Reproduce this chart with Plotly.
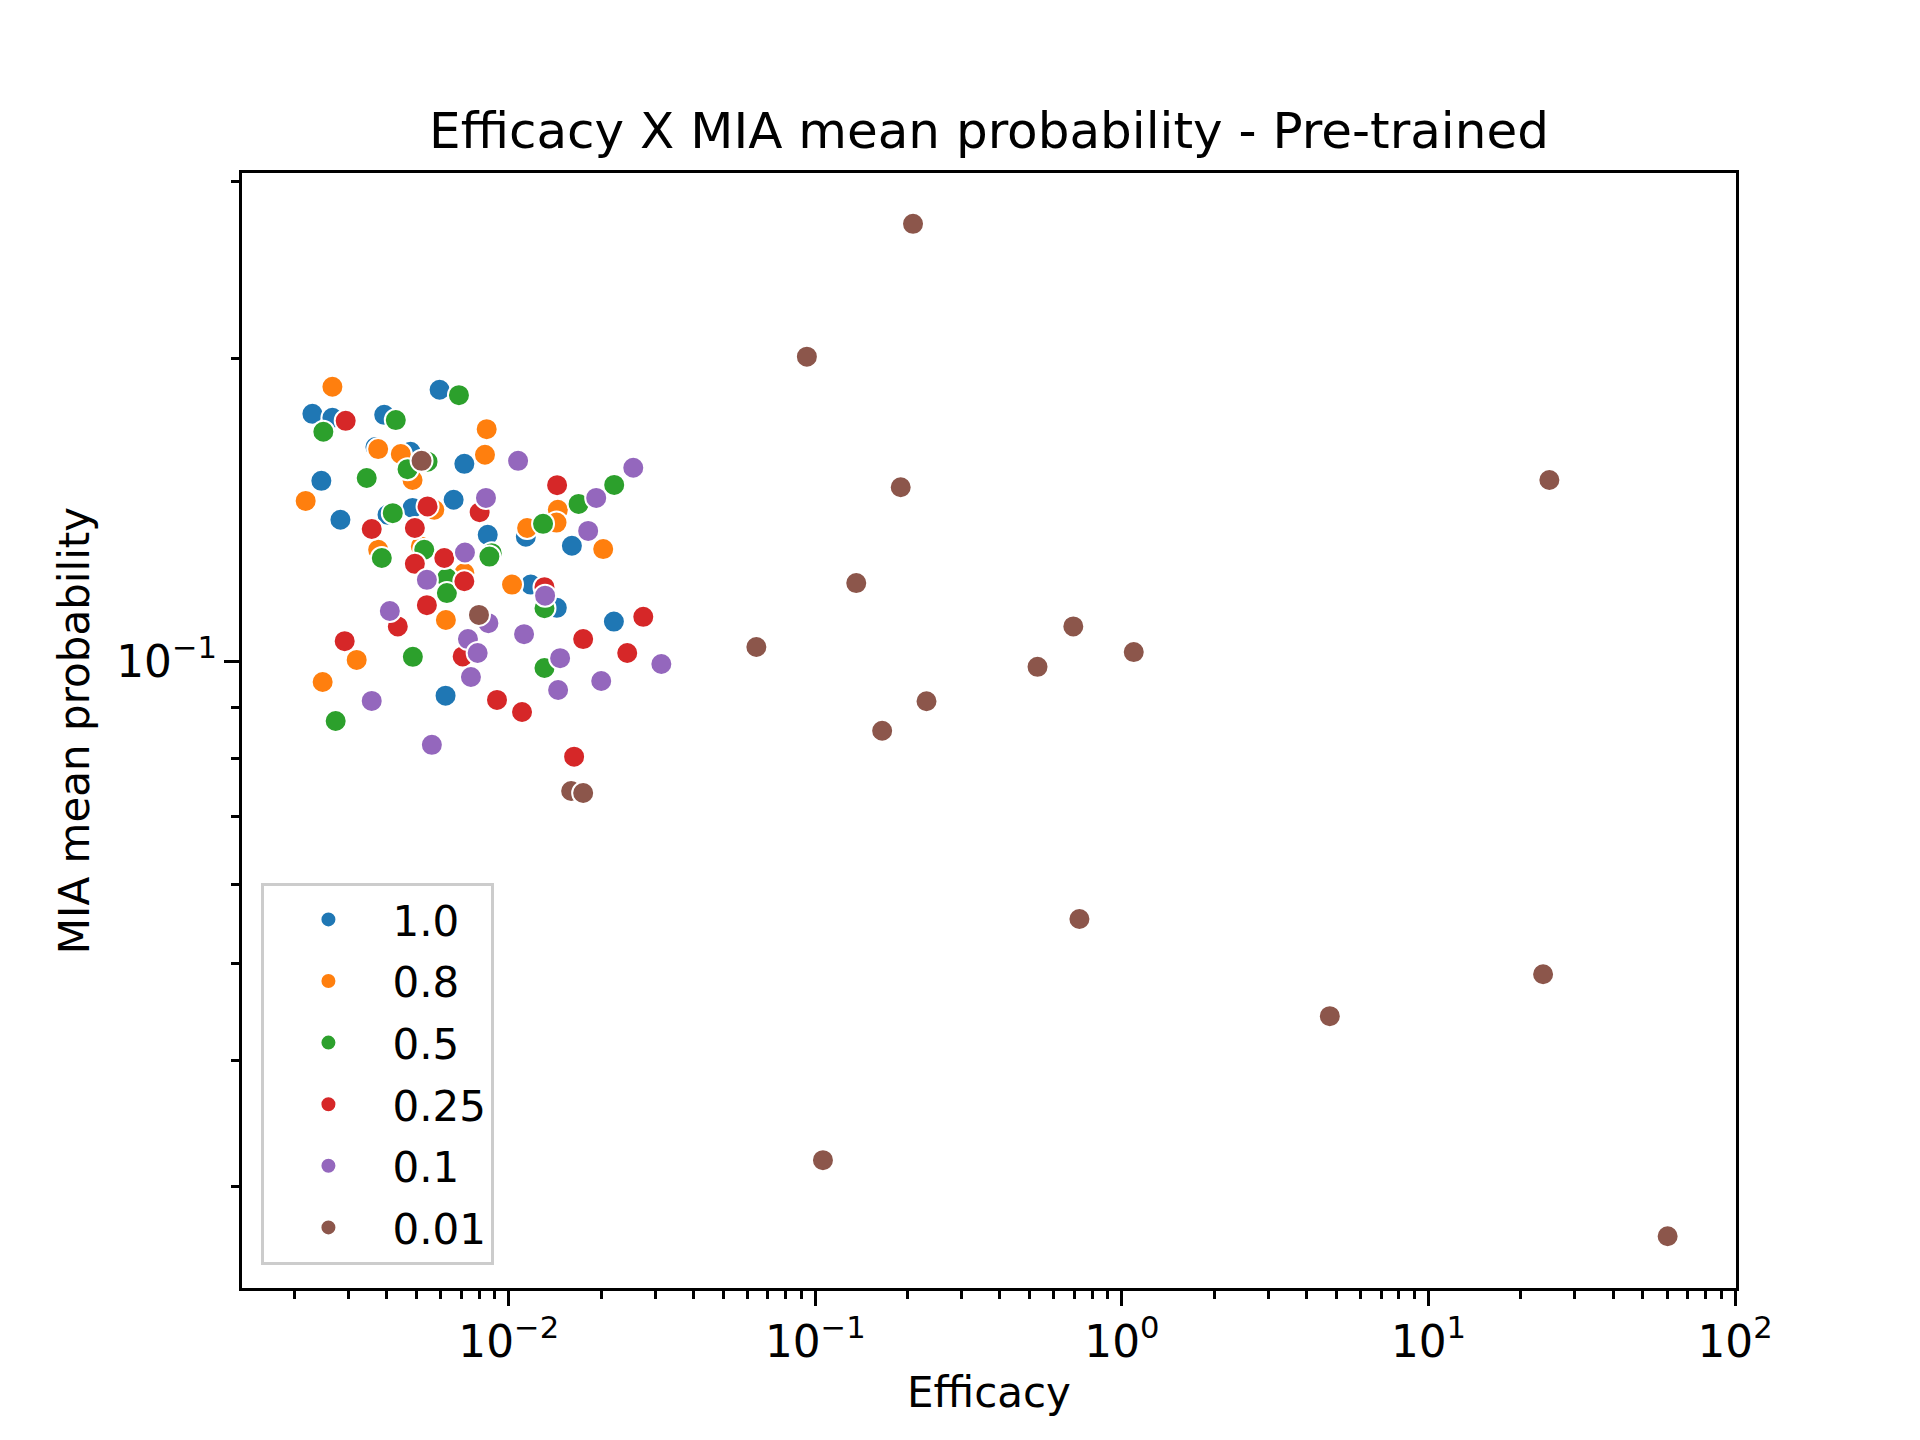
import plotly.graph_objects as go

# hue levels and colours (seaborn / tab10 defaults)
ratios = ["1.0", "0.8", "0.5", "0.25", "0.1", "0.01"]
colors = ["#1f77b4", "#ff7f0e", "#2ca02c", "#d62728", "#9467bd", "#8c564b"]

# efficacy (x) and MIA mean probability (y), one pair of lists per ratio
eff_10 = [0.002289, 0.00266, 0.00595, 0.003925, 0.003675, 0.004783, 0.007165,
          0.002448, 0.002825, 0.006611, 0.004024, 0.004856, 0.00854, 0.01137,
          0.01607, 0.0118, 0.01435, 0.02203, 0.006223]
mia_10 = [0.1763, 0.1747, 0.1863, 0.1759, 0.1634, 0.1616, 0.1572, 0.1512,
          0.1383, 0.1448, 0.1399, 0.1421, 0.1336, 0.1330, 0.1303, 0.1192,
          0.1130, 0.1095, 0.0924]

eff_08 = [0.00266, 0.003751, 0.004446, 0.004856, 0.008474, 0.008366, 0.002176,
          0.005717, 0.003751, 0.005168, 0.01446, 0.01432, 0.01148, 0.02033,
          0.01025, 0.006238, 0.003192, 0.002472, 0.007165]
mia_08 = [0.1876, 0.1626, 0.1608, 0.1515, 0.1702, 0.1605, 0.1444, 0.1415,
          0.1291, 0.1301, 0.1415, 0.1374, 0.1357, 0.1293, 0.1192, 0.1099,
          0.1003, 0.09535, 0.1224]

eff_05 = [0.002485, 0.00688, 0.004282, 0.005435, 0.004677, 0.003442, 0.004186,
          0.003855, 0.005302, 0.0088, 0.008648, 0.006285, 0.02208, 0.0169,
          0.01294, 0.01308, 0.01308, 0.006285, 0.004867, 0.002726]
mia_05 = [0.1692, 0.1840, 0.1738, 0.1580, 0.1553, 0.1522, 0.1404, 0.1267,
          0.1291, 0.1281, 0.1271, 0.1210, 0.1498, 0.1434, 0.1370, 0.1129,
          0.09845, 0.1169, 0.1010, 0.08718]

eff_025 = [0.002939, 0.005435, 0.008038, 0.003574, 0.004941, 0.006163, 0.004941,
           0.007165, 0.01438, 0.01308, 0.005408, 0.004347, 0.007075, 0.002917,
           0.01749, 0.02747, 0.02435, 0.009157, 0.01105, 0.01634]
mia_025 = [0.1735, 0.1426, 0.1407, 0.1354, 0.1357, 0.1267, 0.1250, 0.1201,
           0.1497, 0.1185, 0.1137, 0.1083, 0.1011, 0.1047, 0.1052, 0.1107,
           0.1019, 0.0915, 0.0890, 0.08035]

eff_01 = [0.008429, 0.007198, 0.005408, 0.01073, 0.02548, 0.01929, 0.01816,
          0.01314, 0.008583, 0.01122, 0.01471, 0.01449, 0.02003, 0.03146,
          0.004094, 0.007362, 0.007919, 0.007529, 0.003574, 0.005614]
mia_01 = [0.1454, 0.1283, 0.1205, 0.1583, 0.1558, 0.1454, 0.1348, 0.1162,
          0.1091, 0.1064, 0.1007, 0.09361, 0.09556, 0.09936, 0.1122, 0.1052,
          0.1019, 0.09645, 0.09129, 0.08255]

eff_001 = [0.005196, 0.007997, 0.01598, 0.01749, 0.2083, 0.09386, 0.1899,
           0.1360, 0.06423, 0.6942, 1.093, 0.5306, 0.2305, 0.1652, 24.79,
           0.7268, 23.65, 4.766, 0.1059, 60.26]
mia_001 = [0.1583, 0.1112, 0.07427, 0.07393, 0.2725, 0.2010, 0.1490, 0.1196,
           0.1033, 0.1083, 0.1021, 0.09872, 0.09123, 0.08527, 0.1515, 0.05538,
           0.04879, 0.04432, 0.03186, 0.02676]

xs = [eff_10, eff_08, eff_05, eff_025, eff_01, eff_001]
ys = [mia_10, mia_08, mia_05, mia_025, mia_01, mia_001]

FONT = "DejaVu Sans"

fig = go.Figure()
for name, color, x, y in zip(ratios, colors, xs, ys):
    fig.add_trace(go.Scatter(
        x=x, y=y, mode="markers", name=name, legendgroup=name,
        marker=dict(color=color, size=22, line=dict(color="white", width=2)),
    ))

fig.update_layout(
    width=1920, height=1440,
    margin=dict(l=242, r=184, t=173, b=152),
    paper_bgcolor="white", plot_bgcolor="white",
    font=dict(family=FONT, size=35, color="black"),
    title=dict(text="Efficacy X MIA mean probability - Pre-trained",
               x=0.5, xref="paper", xanchor="center",
               y=1 - 130 / 1440, yref="container", yanchor="middle",
               font=dict(size=50)),
    legend=dict(x=0.013, y=0.021, xanchor="left", yanchor="bottom",
                bgcolor="rgba(255,255,255,0.8)", bordercolor="#cccccc",
                borderwidth=3, font=dict(size=42), itemwidth=118,
                tracegroupgap=4),
    showlegend=True,
)

axis_style = dict(
    type="log", showgrid=False, zeroline=False,
    showline=True, mirror=True, linecolor="black", linewidth=3,
    ticks="outside", ticklen=15, tickwidth=3, tickcolor="black",
    dtick=1, exponentformat="power",
    labelalias={"1": "10<sup>0</sup>", "10": "10<sup>1</sup>"},
    minor=dict(ticks="outside", ticklen=8, tickwidth=2.5, tickcolor="black",
               dtick="D1", showgrid=False),
)

fig.update_xaxes(range=[-2.87, 2.003], title=dict(text="Efficacy", standoff=12),
                 **axis_style)
fig.update_yaxes(range=[-1.624, -0.514],
                 title=dict(text="MIA mean probability", standoff=14),
                 **axis_style)

fig.write_html("out.html", config={"displayModeBar": False},
               post_script="document.body.style.margin='0';")
